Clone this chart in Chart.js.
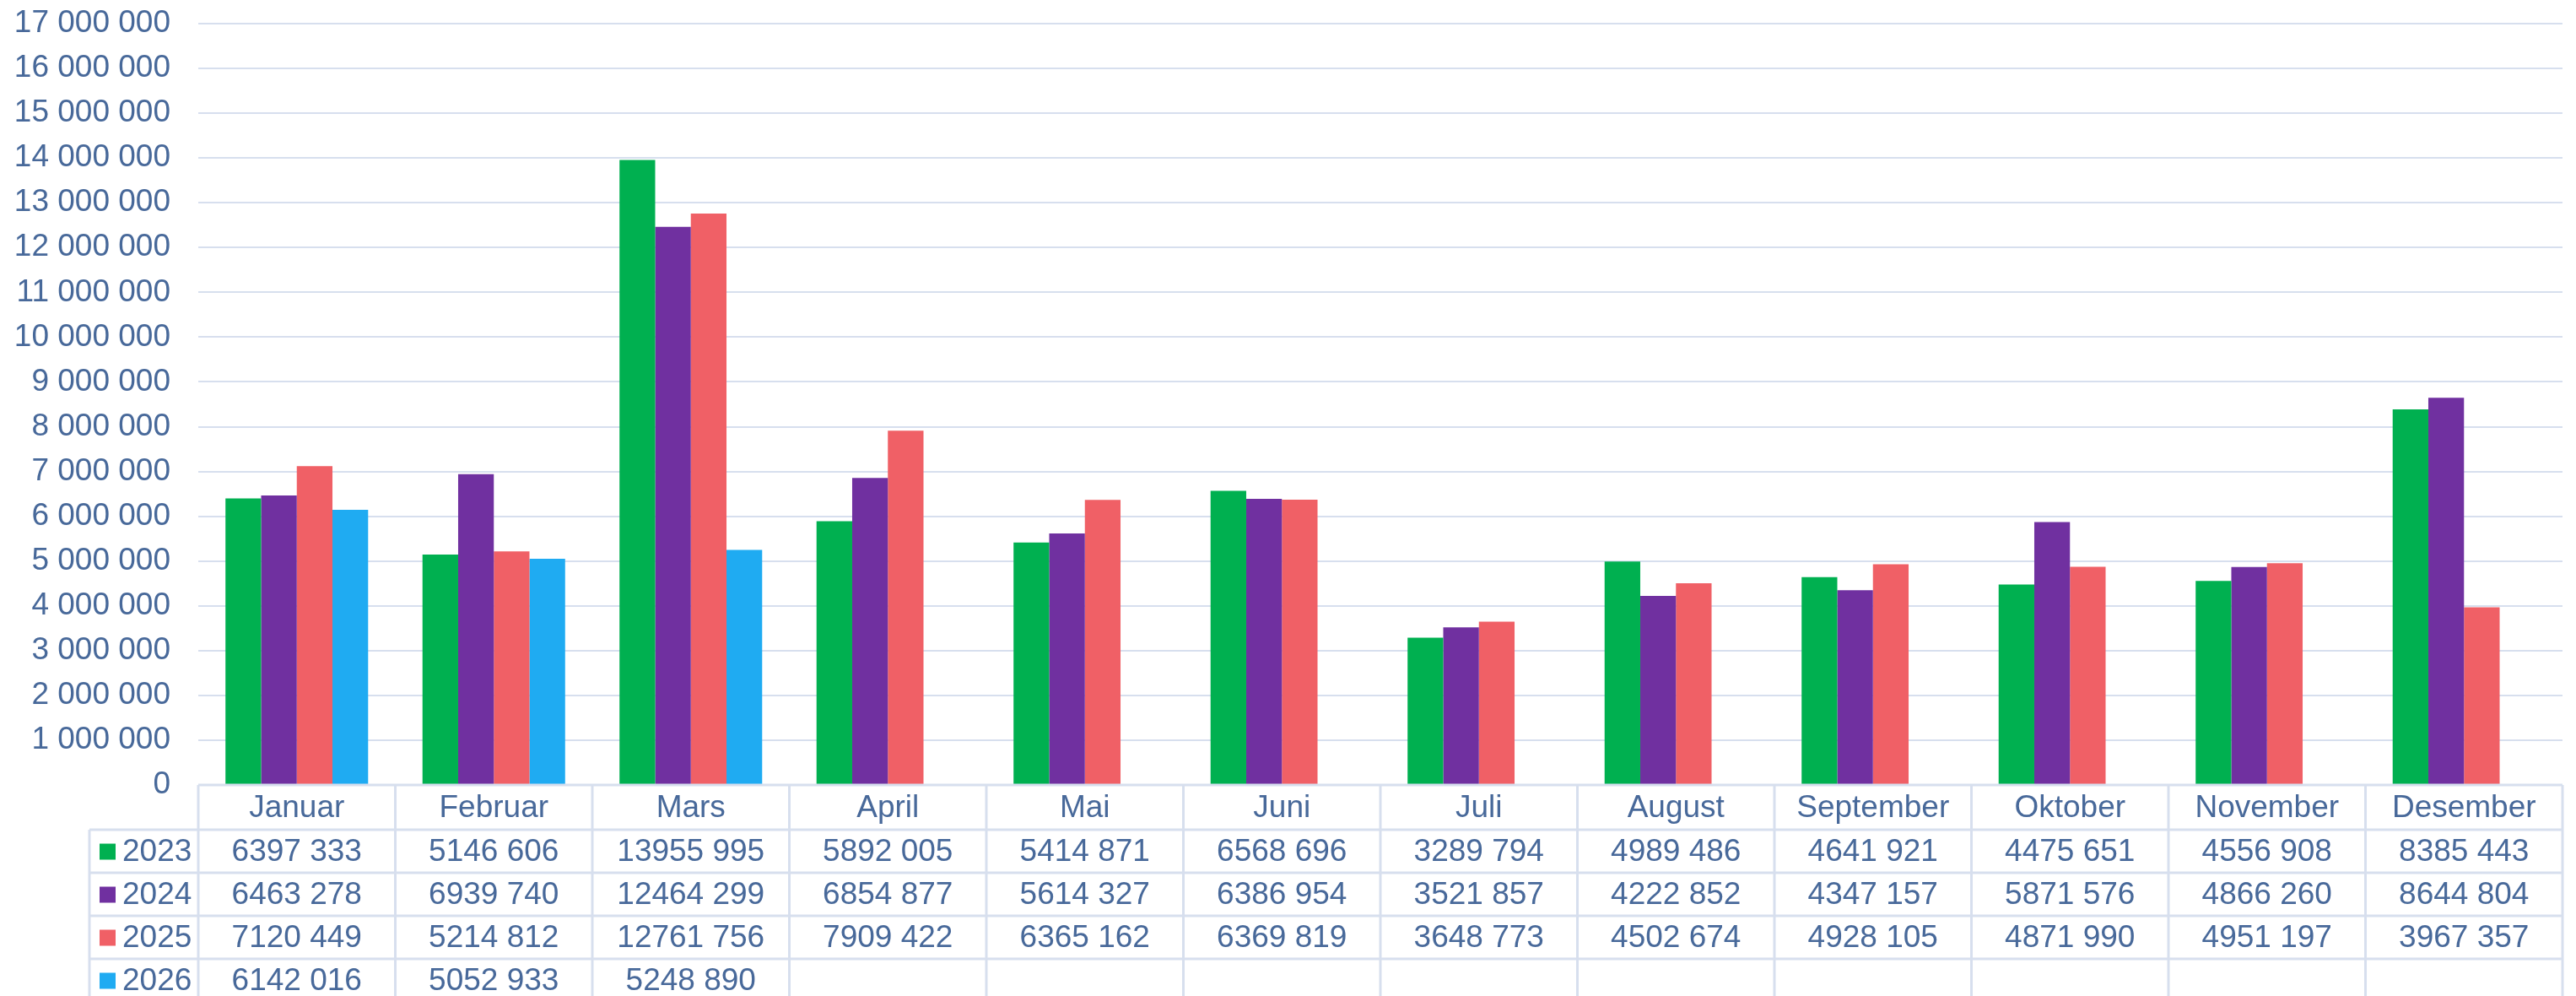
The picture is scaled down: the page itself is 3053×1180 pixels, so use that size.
<!DOCTYPE html>
<html>
<head>
<meta charset="utf-8">
<script src="https://cdn.jsdelivr.net/npm/chart.js@4.4.0/dist/chart.umd.min.js"></script>
<style>
  html, body { margin: 0; padding: 0; background: #fff; }
  #wrap { width: 3053px; height: 1180px; }
</style>
</head>
<body>
<div id="wrap"><canvas id="chart" width="3053" height="1180"></canvas></div>
<script>
const months = ['Januar','Februar','Mars','April','Mai','Juni','Juli','August','September','Oktober','November','Desember'];
const years = ['2023','2024','2025','2026'];
const colors = ['#00b050','#7030a0','#f06066','#1fabf2'];

const v2023 = [6397333,5146606,13955995,5892005,5414871,6568696,3289794,4989486,4641921,4475651,4556908,8385443];
const v2024 = [6463278,6939740,12464299,6854877,5614327,6386954,3521857,4222852,4347157,5871576,4866260,8644804];
const v2025 = [7120449,5214812,12761756,7909422,6365162,6369819,3648773,4502674,4928105,4871990,4951197,3967357];
const v2026 = [6142016,5052933,5248890,null,null,null,null,null,null,null,null,null];
const series = [v2023, v2024, v2025, v2026];

const yMax = 17000000;
const yStep = 1000000;

const FONT = '"Liberation Sans", Arial, sans-serif';
const TEXT = '#48699a';
const GRID = '#d7dfee';

// tick labels: "17 000 000"
function groupAll(v) {
  return String(v).replace(/\B(?=(\d{3})+(?!\d))/g, ' ');
}
// table labels: "6397 333", "13955 995"
function groupLast(v) {
  const s = String(v);
  if (s.length <= 3) return s;
  return s.slice(0, -3) + ' ' + s.slice(-3);
}

// data table under the plot, positioned from the x scale
const tablePlugin = {
  id: 'dataTable',
  afterDraw(chart) {
    const ctx = chart.ctx;
    const xs = chart.scales.x;
    const area = chart.chartArea;
    const step = (area.right - area.left) / months.length;
    const headH = 53, rowH = 51;
    const legL = 106;
    const top = area.bottom;
    const rowsTop = top + headH;
    const bottom = rowsTop + rowH * years.length;

    ctx.save();
    ctx.strokeStyle = GRID;
    ctx.lineWidth = 3;
    ctx.beginPath();
    ctx.moveTo(area.left, top); ctx.lineTo(area.right, top);
    ctx.moveTo(area.left, top); ctx.lineTo(area.left, bottom);
    for (let r = 0; r <= years.length; r++) {
      const y = rowsTop + r * rowH;
      ctx.moveTo(legL, y); ctx.lineTo(area.right, y);
    }
    ctx.moveTo(legL, rowsTop); ctx.lineTo(legL, bottom);
    for (let i = 1; i <= months.length; i++) {
      const x = area.left + i * step;
      ctx.moveTo(x, top); ctx.lineTo(x, bottom);
    }
    ctx.stroke();

    ctx.fillStyle = TEXT;
    ctx.font = '37px ' + FONT;
    ctx.textAlign = 'center';
    ctx.textBaseline = 'middle';
    months.forEach((m, i) => {
      ctx.fillText(m, xs.getPixelForValue(i), top + headH / 2 + 1);
    });

    series.forEach((vals, r) => {
      const cy = rowsTop + r * rowH + rowH / 2 + 1;
      ctx.fillStyle = colors[r];
      ctx.fillRect(118, cy - 10, 19, 19);
      ctx.fillStyle = TEXT;
      ctx.textAlign = 'left';
      ctx.fillText(years[r], 145, cy);
      ctx.textAlign = 'center';
      vals.forEach((v, i) => {
        if (v == null) return;
        ctx.fillText(groupLast(v), xs.getPixelForValue(i), cy);
      });
    });
    ctx.restore();
  }
};

new Chart(document.getElementById('chart'), {
  type: 'bar',
  data: {
    labels: months,
    datasets: years.map((y, i) => ({
      label: y,
      data: series[i],
      backgroundColor: colors[i],
      borderWidth: 0,
      categoryPercentage: 0.724,
      barPercentage: 1.0
    }))
  },
  options: {
    responsive: false,
    animation: false,
    layout: { padding: { top: 28, right: 16, bottom: 250, left: 0 } },
    plugins: { legend: { display: false }, tooltip: { enabled: false } },
    scales: {
      x: { display: false },
      y: {
        min: 0,
        max: yMax,
        afterFit(scale) {
          scale.width = 235;
          scale.paddingTop = 0;
          scale.paddingBottom = 0;
        },
        border: { display: false },
        grid: { color: GRID, lineWidth: 2, drawTicks: false },
        ticks: {
          stepSize: yStep,
          padding: 33,
          color: TEXT,
          font: { family: FONT, size: 37 },
          callback: v => groupAll(v)
        }
      }
    }
  },
  plugins: [tablePlugin]
});
</script>
</body>
</html>
